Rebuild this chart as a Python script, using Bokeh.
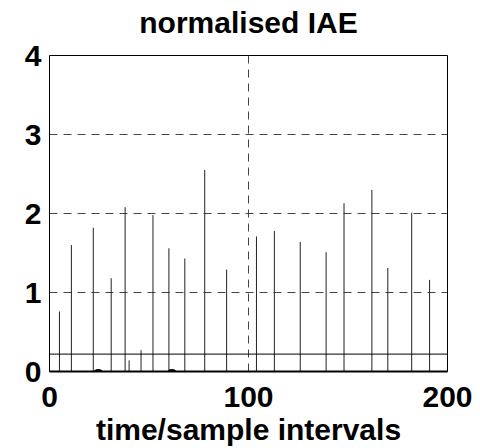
from bokeh.plotting import figure
from bokeh.models import Span, FixedTicker, Range1d, LinearAxis
from bokeh.embed import file_html
from bokeh.resources import INLINE

# data
stem_t = [5, 11, 22, 31, 38, 40, 46, 52, 60, 68, 78, 89,
          104, 113, 126, 139, 148, 162, 170, 182, 191]
stem_v = [0.76, 1.60, 1.82, 1.18, 2.08, 0.14, 0.27, 1.98, 1.56, 1.43, 2.55, 1.29,
          1.71, 1.78, 1.64, 1.51, 2.13, 2.30, 1.31, 2.01, 1.16]
blob_t = [24.5, 61.5]
blob_v = [0.0, 0.0]
threshold = 0.22
x_ticks = [0, 100, 200]
y_ticks = [0, 1, 2, 3, 4]
x_label = "time/sample intervals"
title_text = "normalised IAE"

FONT = "Liberation Sans"

p = figure(width=480, height=448, output_backend="svg", toolbar_location=None,
           x_range=Range1d(0, 200), y_range=Range1d(0, 4),
           min_border_left=49, min_border_right=33, min_border_top=55,
           min_border_bottom=77)
p.background_fill_color = "white"
p.border_fill_color = "white"
p.outline_line_color = "black"
p.outline_line_width = 1

xa = p.below[0]
ya = p.left[0]

# chart title, drawn as the label of a tick-less axis above the frame
top = LinearAxis(ticker=FixedTicker(ticks=[]), axis_line_color=None,
                 major_tick_in=0, major_tick_out=0, minor_tick_in=0,
                 minor_tick_out=0, major_label_standoff=0,
                 axis_label=title_text, axis_label_standoff=17,
                 axis_label_text_font=FONT, axis_label_text_font_style="bold",
                 axis_label_text_font_size="30px", axis_label_text_color="black")
p.add_layout(top, "above")

for ax, ticks in ((xa, x_ticks), (ya, y_ticks)):
    ax.ticker = FixedTicker(ticks=ticks)
    ax.major_label_text_font = FONT
    ax.major_label_text_font_style = "bold"
    ax.major_label_text_font_size = "30px"
    ax.major_label_text_color = "black"
    ax.major_tick_in = 0
    ax.major_tick_out = 0
    ax.minor_tick_in = 0
    ax.minor_tick_out = 0
p.xgrid.ticker = FixedTicker(ticks=x_ticks)
p.ygrid.ticker = FixedTicker(ticks=y_ticks)
ya.axis_line_color = None
xa.axis_line_color = "black"
xa.axis_line_width = 2
ya.major_label_standoff = 8
xa.major_label_standoff = 15

xa.axis_label = x_label
xa.axis_label_text_font = FONT
xa.axis_label_text_font_style = "bold"
xa.axis_label_text_font_size = "30px"
xa.axis_label_text_color = "black"
xa.axis_label_standoff = 3

for g in (p.xgrid, p.ygrid):
    g.grid_line_color = "#444444"
    g.grid_line_dash = "8 6"
    g.grid_line_width = 1

p.add_layout(Span(location=threshold, dimension="width", line_color="black", line_width=1))

p.segment(x0=stem_t, y0=[0] * len(stem_t), x1=stem_t, y1=stem_v,
          line_color="#222222", line_width=1)
p.ellipse(x=blob_t, y=blob_v, width=4, height=0.05, fill_color="black", line_color="black")

open("out.html", "w").write(file_html(p, INLINE))
